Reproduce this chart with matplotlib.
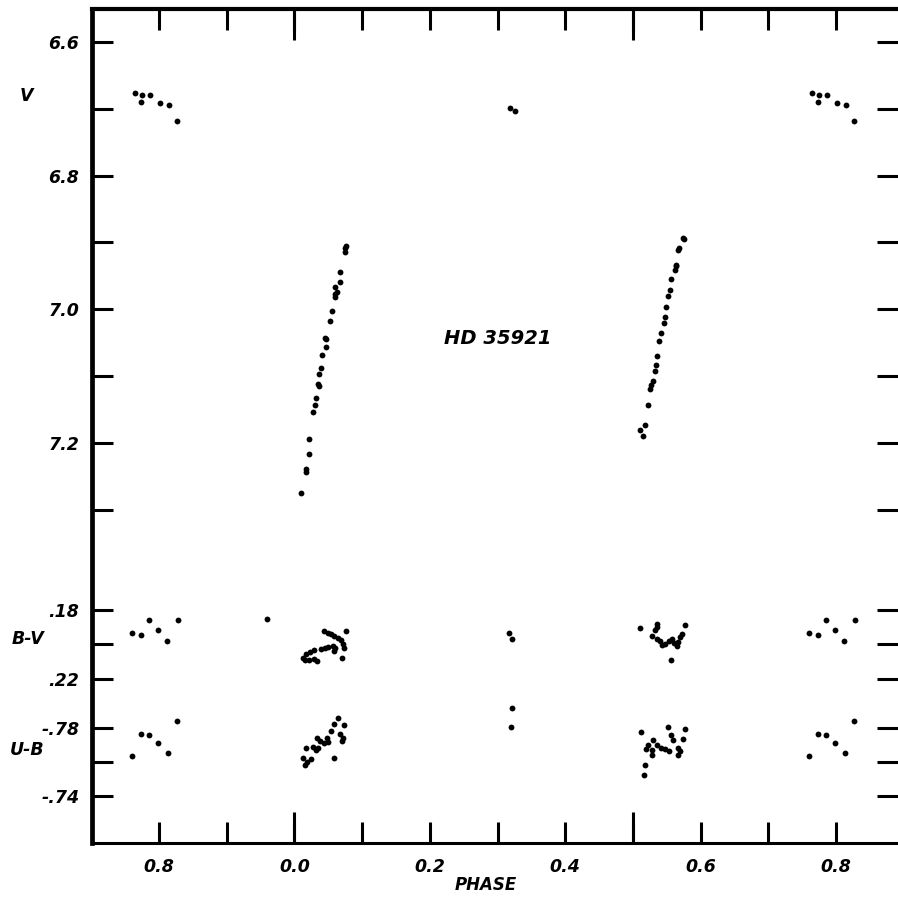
import matplotlib
matplotlib.use("Agg")
import matplotlib.pyplot as plt
from matplotlib.ticker import FixedLocator
import numpy as np

# V light curve (phase, magnitude)
v_phase = [0.764, 0.775, 0.787, 0.774, 0.801, 0.815, 0.827,
           0.319, 0.326,
           0.074, 0.076, 0.075, 0.068, 0.067, 0.060, 0.063, 0.060, 0.060, 0.055,
           0.052, 0.045, 0.047, 0.046, 0.041, 0.039, 0.037, 0.035, 0.037, 0.032,
           0.030, 0.027, 0.021, 0.021, 0.017, 0.017, 0.010,
           0.574, 0.576, 0.568, 0.566, 0.563, 0.564, 0.562, 0.557, 0.555, 0.552,
           0.549, 0.548, 0.546, 0.541, 0.539, 0.536, 0.534, 0.532, 0.530, 0.527,
           0.526, 0.522, 0.518, 0.510, 0.515]
v_mag = [6.676, 6.679, 6.680, 6.690, 6.692, 6.695, 6.718,
         6.699, 6.703,
         6.909, 6.905, 6.914, 6.944, 6.959, 6.966, 6.974, 6.977, 6.982, 7.002,
         7.018, 7.043, 7.045, 7.056, 7.069, 7.088, 7.097, 7.112, 7.114, 7.133,
         7.143, 7.153, 7.194, 7.216, 7.239, 7.243, 7.275,
         6.893, 6.895, 6.908, 6.911, 6.934, 6.936, 6.941, 6.955, 6.971, 6.980,
         6.996, 7.011, 7.020, 7.035, 7.047, 7.070, 7.083, 7.092, 7.107, 7.113,
         7.119, 7.143, 7.173, 7.180, 7.189]

# B-V colour
bv_phase = [0.760, 0.774, 0.785, 0.798, 0.812, 0.828,
            0.317, 0.321, 0.960,
            0.044, 0.049, 0.054, 0.059, 0.064, 0.069, 0.076, 0.072, 0.073, 0.057,
            0.060, 0.058, 0.050, 0.045, 0.039, 0.029, 0.023, 0.017, 0.013, 0.016,
            0.022, 0.029, 0.033, 0.070,
            0.510, 0.535, 0.536, 0.532, 0.528, 0.535, 0.540, 0.543, 0.548, 0.553,
            0.558, 0.560, 0.567, 0.570, 0.573, 0.565, 0.577, 0.557]
bv_val = [0.1935, 0.1943, 0.1856, 0.1918, 0.1979, 0.1857,
          0.1933, 0.1968, 0.1852,
          0.1920, 0.1932, 0.1941, 0.1952, 0.1964, 0.1974, 0.1920, 0.1999, 0.2019, 0.2007,
          0.2022, 0.2038, 0.2013, 0.2022, 0.2026, 0.2032, 0.2045, 0.2057, 0.2077, 0.2092,
          0.2090, 0.2086, 0.2096, 0.2077,
          0.1904, 0.1879, 0.1899, 0.1918, 0.1951, 0.1966, 0.1981, 0.2005, 0.1995, 0.1981,
          0.1970, 0.1990, 0.1986, 0.1957, 0.1937, 0.2009, 0.1885, 0.2092]

# U-B colour
ub_phase = [0.760, 0.773, 0.785, 0.798, 0.813, 0.827,
            0.322, 0.320,
            0.064, 0.059, 0.073, 0.054, 0.067, 0.072, 0.070, 0.048, 0.050, 0.043,
            0.038, 0.033, 0.032, 0.028, 0.035, 0.017, 0.013, 0.018, 0.024, 0.016, 0.058,
            0.512, 0.552, 0.556, 0.559, 0.577, 0.574, 0.530, 0.536, 0.541, 0.548,
            0.553, 0.523, 0.520, 0.528, 0.528, 0.567, 0.570, 0.566, 0.518, 0.516]
ub_val = [-0.7635, -0.7763, -0.7759, -0.7711, -0.7654, -0.7844,
          -0.7916, -0.7804,
          -0.7861, -0.7825, -0.7818, -0.7782, -0.7765, -0.7743, -0.7724, -0.7739, -0.7719, -0.7710,
          -0.7724, -0.7743, -0.7671, -0.7686, -0.7681, -0.7681, -0.7622, -0.7602, -0.7618, -0.7582, -0.7622,
          -0.7776, -0.7806, -0.7761, -0.7728, -0.7792, -0.7734, -0.7728, -0.7702, -0.7682, -0.7675,
          -0.7666, -0.7698, -0.7675, -0.7672, -0.7639, -0.7682, -0.7663, -0.7643, -0.7584, -0.7525]

x_ticks = [-0.2, -0.1, 0.0, 0.1, 0.2, 0.3, 0.4, 0.5, 0.6, 0.7, 0.8]
x_labels = ["0.8", "", "0.0", "", "0.2", "", "0.4", "", "0.6", "", "0.8"]
v_ticks = [6.6, 6.7, 6.8, 6.9, 7.0, 7.1, 7.2, 7.3]
v_labels = ["6.6", "", "6.8", "", "7.0", "", "7.2", ""]
bv_ticks = [0.18, 0.20, 0.22]
bv_labels = [".18", "", ".22"]
ub_ticks = [-0.78, -0.76, -0.74]
ub_labels = ["-.78", "", "-.74"]

font = dict(family="DejaVu Sans", weight="bold", style="italic")

fig = plt.figure(figsize=(8.98, 8.97), dpi=100)
rect = [92 / 898, 1 - 843 / 897, 806 / 898, (843 - 9) / 897]
ax = fig.add_axes(rect)
ax_bv = fig.add_axes(rect, sharex=ax)
ax_ub = fig.add_axes(rect, sharex=ax)

ax.set_xlim(-0.299, 0.8916)
ax.set_ylim(7.798, 6.551)
ax_bv.set_ylim(0.3151, -0.1684)
ax_ub.set_ylim(-0.7124, -1.203)


def phased(ph):
    ph = np.asarray(ph)
    return np.concatenate([ph, ph - 1.0])


def twice(vals):
    vals = np.asarray(vals)
    return np.concatenate([vals, vals])


ms = 4.2
ax.plot(phased(v_phase), twice(v_mag), 'o', color='black', ms=ms, mew=0)
ax_bv.plot(phased(bv_phase), twice(bv_val), 'o', color='black', ms=ms, mew=0)
ax_ub.plot(phased(ub_phase), twice(ub_val), 'o', color='black', ms=ms, mew=0)

# frame
ax.spines['right'].set_visible(False)
ax.spines['left'].set_linewidth(3.4)
ax.spines['top'].set_linewidth(3.0)
ax.spines['bottom'].set_linewidth(2.2)

ax.xaxis.set_major_locator(FixedLocator(x_ticks))
ax.set_xticklabels(x_labels, fontdict=font, fontsize=12.5)
ax.xaxis.remove_overlapping_locs = False
ax.xaxis.set_minor_locator(FixedLocator([0.0, 0.5]))
ax.tick_params(axis='x', which='major', direction='in', top=True, bottom=True,
               length=15, width=2.2, pad=11)
ax.tick_params(axis='x', which='minor', direction='in', top=True, bottom=True,
               length=22, width=2.2)

for a, ticks, labels in [(ax, v_ticks, v_labels), (ax_bv, bv_ticks, bv_labels),
                         (ax_ub, ub_ticks, ub_labels)]:
    a.yaxis.set_major_locator(FixedLocator(ticks))
    a.set_yticklabels(labels, fontdict=font, fontsize=12.5)
    a.tick_params(axis='y', direction='in', left=True, right=True,
                  length=15, width=2.2, pad=9)
    a.yaxis.set_minor_locator(FixedLocator([]))

for a in (ax_bv, ax_ub):
    a.patch.set_visible(False)
    for s in a.spines.values():
        s.set_visible(False)
    a.tick_params(axis='x', which='both', bottom=False, top=False, labelbottom=False)

ax.text(0.30, 7.043, "HD 35921", ha='center', va='center', fontsize=14, **font)
fig.text(26 / 898, 1 - 96 / 897, "V", ha='center', va='center', fontsize=12.5, **font)
fig.text(28 / 898, 1 - 639 / 897, "B-V", ha='center', va='center', fontsize=12.5, **font)
fig.text(27 / 898, 1 - 750 / 897, "U-B", ha='center', va='center', fontsize=12.5, **font)
fig.text(486 / 898, 1 - 885 / 897, "PHASE", ha='center', va='center', fontsize=12, **font)

fig.savefig("out.png", dpi=100)
